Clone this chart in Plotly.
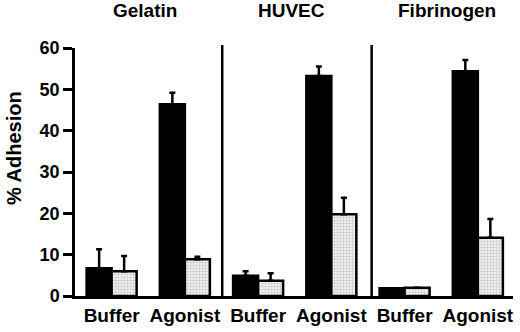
import plotly.graph_objects as go

# ---- data ----
conditions = ["Buffer", "Agonist", "Buffer", "Agonist", "Buffer", "Agonist"]
substrates = ["Gelatin", "HUVEC", "Fibrinogen"]
black_vals = [6.7, 46.4, 4.9, 53.2, 1.9, 54.4]
black_err = [4.6, 2.8, 1.1, 2.3, 0.0, 2.7]
gray_vals = [6.0, 8.9, 3.7, 19.8, 2.0, 14.1]
gray_err = [3.7, 0.6, 1.8, 4.0, 0.0, 4.5]
y_ticks = [0, 10, 20, 30, 40, 50, 60]

x = list(range(len(conditions)))
zeros = [0] * len(conditions)

FONT = "Liberation Sans, Arial, Helvetica, sans-serif"

fig = go.Figure()
fig.add_trace(go.Bar(
    x=x, y=black_vals,
    marker=dict(color="black", line=dict(color="black", width=2.5)),
    error_y=dict(type="data", symmetric=False, array=black_err, arrayminus=zeros,
                 color="black", thickness=2.5, width=3),
    showlegend=False,
))
fig.add_trace(go.Bar(
    x=x, y=gray_vals,
    marker=dict(color="#d6d6d6", line=dict(color="black", width=2.5),
                pattern=dict(shape="+", fgcolor="#a8a8a8", bgcolor="#f0f0f0",
                             size=3, solidity=0.4)),
    error_y=dict(type="data", symmetric=False, array=gray_err, arrayminus=zeros,
                 color="black", thickness=2.5, width=3),
    showlegend=False,
))

# dividers between substrate groups
for xd in [1.51, 3.55]:
    fig.add_shape(type="line", xref="x", yref="paper", x0=xd, x1=xd, y0=0, y1=1.012,
                  line=dict(color="black", width=2.5))

# group titles
title_x = [0.45, 2.45, 4.58]
for name, tx in zip(substrates, title_x):
    fig.add_annotation(x=tx, y=1.153, xref="x", yref="paper", text="<b>%s</b>" % name,
                       showarrow=False, yanchor="middle", xanchor="center",
                       font=dict(family=FONT, size=19, color="black"))

# y-axis title
fig.add_annotation(x=-0.139, y=0.597, xref="paper", yref="paper", text="<b>% Adhesion</b>",
                   textangle=-90, showarrow=False, xanchor="center", yanchor="middle",
                   font=dict(family=FONT, size=20, color="black"))

fig.update_layout(
    width=520, height=332,
    margin=dict(l=75, r=7, t=48, b=36),
    paper_bgcolor="white", plot_bgcolor="white",
    barmode="group", bargap=0.317, bargroupgap=0,
    xaxis=dict(range=[-0.5, 5.48], tickvals=x, ticktext=["<b>%s</b>" % c for c in conditions],
               showline=True, linecolor="black", linewidth=2.5, ticks="",
               showgrid=False, zeroline=False,
               tickfont=dict(family=FONT, size=19, color="black")),
    yaxis=dict(range=[0, 60], tickvals=y_ticks, ticktext=["<b>%d</b>" % v for v in y_ticks],
               showline=True, linecolor="black", linewidth=2.5,
               ticks="outside", ticklen=9, tickwidth=2.5, tickcolor="black",
               showgrid=False, zeroline=False,
               tickfont=dict(family=FONT, size=18, color="black")),
)

fig.write_html("out.html",
               config={"displayModeBar": False},
               post_script="document.body.style.margin='0';document.body.style.overflow='hidden';")
